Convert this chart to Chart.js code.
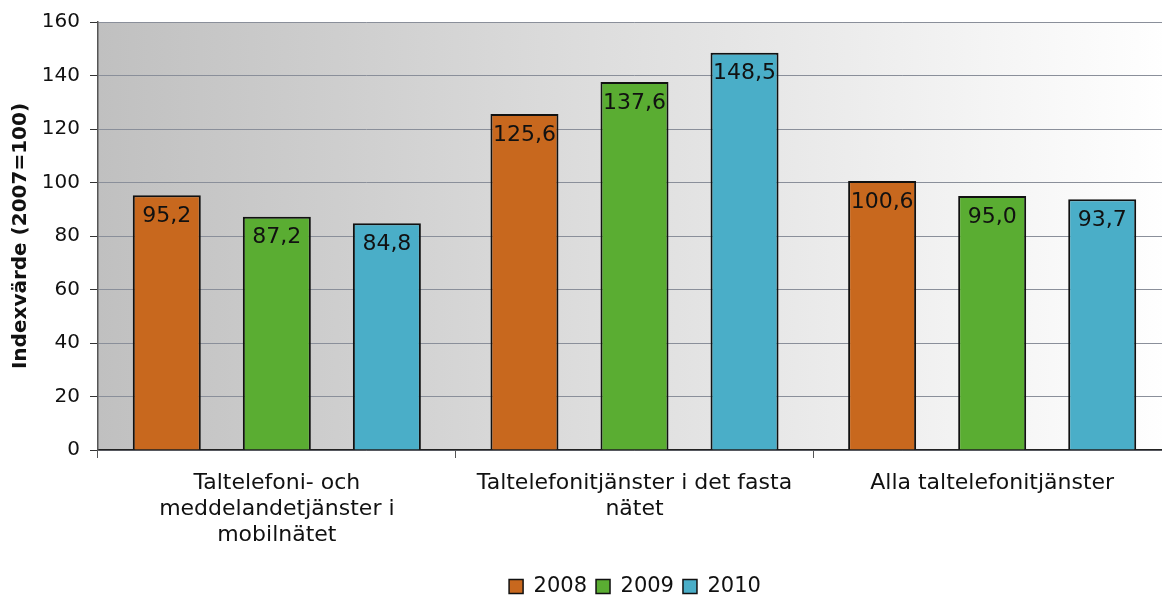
<!DOCTYPE html>
<html><head><meta charset="utf-8">
<script src="https://cdn.jsdelivr.net/npm/chart.js@4.4.0/dist/chart.umd.min.js"></script>
<style>html,body{margin:0;padding:0;background:#fff;overflow:hidden}#wrap{width:1162px;height:597px;overflow:hidden}</style>
</head><body><div id="wrap"><canvas id="c" width="1171" height="597"></canvas></div>
<script>
const categories = [["Taltelefoni- och","meddelandetjänster i","mobilnätet"],["Taltelefonitjänster i det fasta","nätet"],["Alla taltelefonitjänster"]];
const years = ["2008","2009","2010"];
const values2008 = [95.2, 125.6, 100.6];
const values2009 = [87.2, 137.6, 95.0];
const values2010 = [84.8, 148.5, 93.7];
const yTicks = [0,20,40,60,80,100,120,140,160];
const colors = ["#c8681e","#5aad32","#4aaec8"];
const FONT = "'DejaVu Sans', Verdana, sans-serif";

const bgPlugin = {
  id:'bg',
  beforeDraw(chart){
    const {ctx, chartArea:a} = chart;
    const g = ctx.createLinearGradient(a.left,0,a.right,0);
    g.addColorStop(0,'#c0c0c0'); g.addColorStop(1,'#ffffff');
    ctx.save(); ctx.fillStyle=g; ctx.fillRect(a.left,a.top,a.right-a.left,a.bottom-a.top); ctx.restore();
  }
};
const legendShift = {
  id:'legendShift',
  afterLayout(chart){
    const L = chart.legend;
    if(!L) return;
    const w = L.right - L.left;
    const c = 635;
    L.left = c - w/2; L.right = c + w/2;
    L.top += 10; L.bottom += 10;
  }
};
const labelPlugin = {
  id:'vals',
  afterDatasetsDraw(chart){
    const ctx = chart.ctx;
    ctx.save();
    ctx.font = "22px "+FONT; ctx.fillStyle="#111"; ctx.textAlign='center'; ctx.textBaseline='middle';
    chart.data.datasets.forEach((ds,i)=>{
      chart.getDatasetMeta(i).data.forEach((bar,j)=>{
        ctx.fillText(ds.data[j].toFixed(1).replace('.',','), bar.x, bar.y+21);
      });
    });
    ctx.restore();
  }
};

new Chart(document.getElementById('c'),{
  type:'bar',
  data:{labels:categories, datasets:[values2008,values2009,values2010].map((d,i)=>({
    label:years[i], data:d, backgroundColor:colors[i], borderColor:'#111', borderWidth:2,
    categoryPercentage:0.923, barPercentage:0.618
  }))},
  options:{
    responsive:false, animation:false, devicePixelRatio:1,
    layout:{padding:{top:22,right:0,left:0,bottom:0}},
    plugins:{
      legend:{position:'bottom', labels:{font:{family:FONT,size:21}, color:'#111', boxWidth:14, boxHeight:14, padding:9,
        generateLabels(chart){return chart.data.datasets.map((ds,i)=>({text:ds.label, fillStyle:ds.backgroundColor, strokeStyle:'#111', lineWidth:1.5, datasetIndex:i, fontColor:'#111'}));}}},
      tooltip:{enabled:false}
    },
    scales:{
      x:{
        grid:{drawOnChartArea:false, offset:true, tickLength:8, color:'#555'},
        border:{color:'#222', width:1.5},
        ticks:{font:{family:FONT,size:22,lineHeight:1.16}, color:'#111', padding:13, maxRotation:0},
        afterFit(s){s.height=107;}
      },
      y:{
        min:0,max:160,
        afterBuildTicks(s){s.ticks=yTicks.map(v=>({value:v}));},
        grid:{color:'#8a8f9a', tickLength:8, tickColor:'#333'},
        border:{color:'#555', width:1.5},
        ticks:{font:{family:FONT,size:20}, color:'#111', padding:10},
        title:{display:true, text:'Indexvärde (2007=100)', font:{family:FONT,size:20,weight:'bold'}, color:'#111', padding:{top:9,bottom:0}},
        afterFit(s){s.width=98;}
      }
    }
  },
  plugins:[bgPlugin,labelPlugin,legendShift]
});
</script></body></html>
